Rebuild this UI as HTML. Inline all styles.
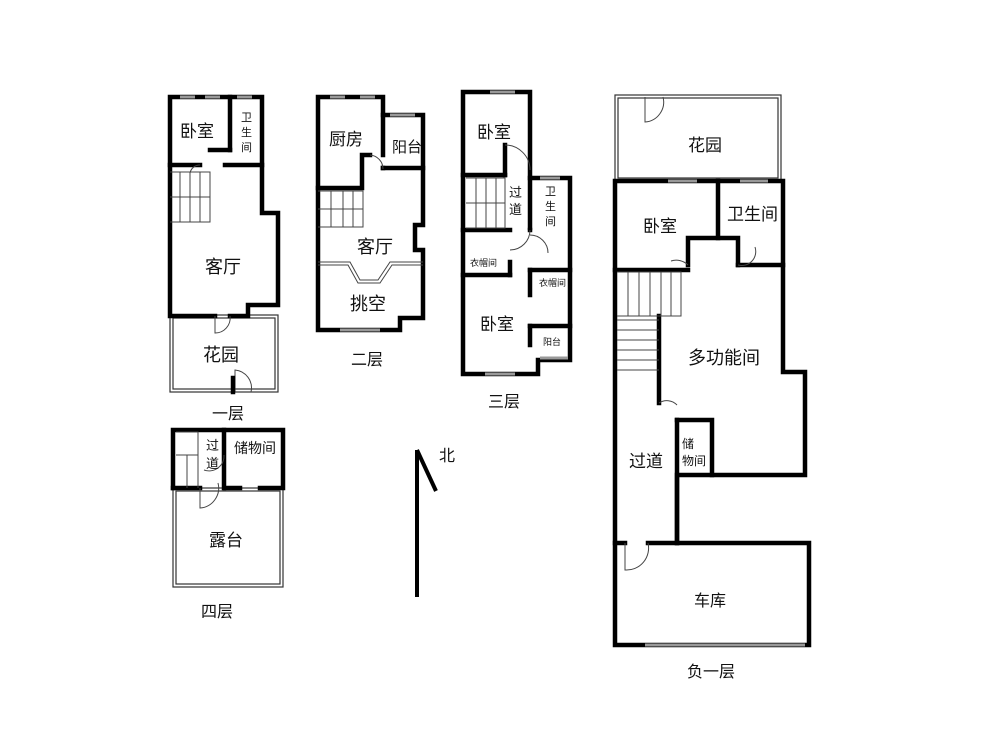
<!DOCTYPE html><html><head><meta charset="utf-8"><style>
html,body{margin:0;padding:0;background:#fff}
svg{display:block}
text{font-family:"Liberation Sans","Noto Sans CJK SC",sans-serif;fill:#111}
.w{fill:none;stroke:#000;stroke-width:4.5;stroke-linecap:square}
.t{fill:none;stroke:#333;stroke-width:1.2}
.d{fill:none;stroke:#444;stroke-width:1}
.win{stroke:#999;stroke-width:3}
</style></head><body>
<svg width="1000" height="750" viewBox="0 0 1000 750">
<!-- Floor 1 -->
<rect class="t" x="170" y="315" width="108" height="77"/>
<rect class="t" x="173" y="318" width="102" height="71"/>
<polyline class="w" points="215,316 170,316 170,97 262,97 262,213 278,213 278,305 248,305 248,316 230,316"/>
<line class="w" x1="230" y1="97" x2="230" y2="150"/>
<line class="w" x1="170" y1="165" x2="200" y2="165"/>
<line class="w" x1="225" y1="165" x2="262" y2="165"/>
<line class="w" x1="210" y1="150" x2="230" y2="150"/>
<path class="d" d="M170,172 H210 V222 H170 M180,172 V222 M190,172 V222 M200,172 V222 M170,197 H210"/>
<path class="d" d="M215,316 v17 a15,15 0 0 0 15,-17"/>
<path class="d" d="M235,392 v-22 a18,18 0 0 1 16,22"/>
<line class="w" x1="233" y1="378" x2="233" y2="392"/>
<path class="d" d="M200,165 a10,10 0 0 0 -10,8"/>
<line class="win" x1="180" y1="97" x2="195" y2="97"/><line class="win" x1="205" y1="97" x2="220" y2="97"/><line class="win" x1="237" y1="97" x2="252" y2="97"/>
<text x="180" y="137" font-size="17">卧室</text>
<text x="241" y="121" font-size="11">卫</text><text x="241" y="136" font-size="11">生</text><text x="241" y="151" font-size="11">间</text>
<text x="205" y="273" font-size="18">客厅</text>
<text x="203" y="361" font-size="18">花园</text>
<text x="212" y="419" font-size="16">一层</text>
<!-- Floor 2 -->
<polyline class="w" points="318,330 318,97 383,97 383,115 423,115 423,225 415,225 415,250 423,250 423,318 400,318 400,330 318,330"/>
<line class="w" x1="383" y1="115" x2="383" y2="155"/>
<line class="w" x1="383" y1="168" x2="383" y2="168"/>
<polyline class="w" points="318,188 362,188 362,155 370,155"/>
<line class="w" x1="383" y1="168" x2="423" y2="168"/>
<path class="d" d="M318,191 H363 V227 H318 M318,209 H363 M331,191 V227 M343,191 V227 M353,191 V227"/>
<path class="d" d="M318,262 H350 L360,280 H378 L390,262 H423 M318,265 H348 L358,283 H380 L392,265 H423"/>
<path class="d" d="M370,155 a14,14 0 0 1 13,14"/>
<line class="win" x1="330" y1="97" x2="345" y2="97"/><line class="win" x1="360" y1="97" x2="375" y2="97"/><line class="win" x1="390" y1="115" x2="415" y2="115"/><line class="win" x1="340" y1="330" x2="380" y2="330"/>
<text x="329" y="145" font-size="17">厨房</text>
<text x="392" y="152" font-size="15">阳台</text>
<text x="357" y="253" font-size="18">客厅</text>
<text x="350" y="310" font-size="18">挑空</text>
<text x="351" y="365" font-size="16">二层</text>
<!-- Floor 3 -->
<polyline class="w" points="463,374 463,92 530,92 530,178 570,178 570,360 538,360 538,374 463,374"/>
<line class="w" x1="463" y1="175" x2="505" y2="175"/>
<line class="w" x1="505" y1="145" x2="505" y2="175"/>
<line class="w" x1="463" y1="230" x2="510" y2="230"/>
<line class="w" x1="530" y1="230" x2="530" y2="230"/>
<line class="w" x1="463" y1="275" x2="510" y2="275"/>
<line class="w" x1="510" y1="262" x2="510" y2="275"/>
<line class="w" x1="530" y1="270" x2="570" y2="270"/>
<line class="w" x1="530" y1="270" x2="530" y2="295"/>
<line class="w" x1="530" y1="326" x2="570" y2="326"/>
<line class="w" x1="530" y1="326" x2="530" y2="345"/>
<line class="w" x1="530" y1="228" x2="530" y2="178"/>
<path class="d" d="M466,178 H505 V228 H466 M476,178 V228 M486,178 V228 M496,178 V228 M466,203 H505"/>
<path class="d" d="M505,145 a25,25 0 0 1 25,25 M510,250 a20,20 0 0 0 20,-20 M530,235 a18,18 0 0 1 18,18"/>
<line class="win" x1="490" y1="92" x2="515" y2="92"/><line class="win" x1="540" y1="178" x2="560" y2="178"/><line class="win" x1="485" y1="374" x2="515" y2="374"/><line class="win" x1="540" y1="358" x2="568" y2="358"/>
<text x="477" y="138" font-size="17">卧室</text>
<text x="509" y="197" font-size="13">过</text><text x="509" y="214" font-size="13">道</text>
<text x="545" y="195" font-size="11">卫</text><text x="545" y="210" font-size="11">生</text><text x="545" y="225" font-size="11">间</text>
<text x="470" y="266" font-size="9">衣帽间</text>
<text x="539" y="286" font-size="9">衣帽间</text>
<text x="480" y="330" font-size="17">卧室</text>
<text x="543" y="345" font-size="9">阳台</text>
<text x="488" y="407" font-size="16">三层</text>
<!-- Floor 4 -->
<rect class="t" x="173" y="488" width="110" height="99"/>
<rect class="t" x="176" y="491" width="104" height="93"/>
<polyline class="w" points="173,488 173,430 283,430 283,488 260,488"/>
<line class="w" x1="173" y1="488" x2="200" y2="488"/>
<line class="w" x1="225" y1="488" x2="240" y2="488"/>
<line class="w" x1="224" y1="430" x2="224" y2="488"/>
<path class="d" d="M176,432 H198 V488 M176,455 H198 M187,455 V488 M200,488 V508 a20,20 0 0 0 18,-25 M224,455 a15,15 0 0 1 -20,15"/>
<text x="206" y="450" font-size="13">过</text><text x="206" y="468" font-size="13">道</text>
<text x="234" y="453" font-size="14">储物间</text>
<text x="209" y="546" font-size="17">露台</text>
<text x="201" y="617" font-size="16">四层</text>
<!-- North -->
<line x1="417" y1="450" x2="417" y2="597" stroke="#000" stroke-width="4"/>
<line x1="417" y1="450" x2="436" y2="491" stroke="#000" stroke-width="4"/>
<text x="439" y="461" font-size="16">北</text>
<!-- B1 -->
<rect class="t" x="615" y="95" width="166" height="86"/>
<rect class="t" x="618" y="98" width="160" height="80"/>
<path class="d" d="M645,97 v25 a20,20 0 0 0 18,-25"/>
<polyline class="w" points="615,181 615,645 809,645 809,543 677,543 677,475 805,475 805,372 783,372 783,181 615,181"/>
<line class="w" x1="718" y1="181" x2="718" y2="238"/>
<polyline class="w" points="688,265 688,238 738,238 738,265"/>
<line class="w" x1="615" y1="270" x2="688" y2="270"/>
<line class="w" x1="738" y1="265" x2="783" y2="265"/>
<polyline class="w" points="615,543 625,543"/>
<line class="w" x1="648" y1="543" x2="677" y2="543"/>
<polyline class="w" points="659,316 659,403"/>
<polyline class="w" points="677,420 712,420 712,475"/>
<line class="w" x1="677" y1="420" x2="677" y2="543"/>
<path class="d" d="M617,272 H681 V316 H617 M628,272 V316 M639,272 V316 M650,272 V316 M661,272 V316 M671,272 V316 M617,320 H659 M617,330 H659 M617,340 H659 M617,350 H659 M617,360 H659 M617,370 H659"/>
<path class="d" d="M688,265 a17,17 0 0 0 -17,-4 M738,265 a14,14 0 0 0 17,-18 M659,403 a14,14 0 0 1 18,2 M625,543 v27 a22,22 0 0 0 23,-27"/>
<line class="win" x1="668" y1="181" x2="697" y2="181"/><line class="win" x1="740" y1="181" x2="768" y2="181"/><line class="win" x1="645" y1="645" x2="805" y2="645"/>
<text x="688" y="151" font-size="17">花园</text>
<text x="643" y="232" font-size="17">卧室</text>
<text x="727" y="220" font-size="17">卫生间</text>
<text x="688" y="364" font-size="18">多功能间</text>
<text x="629" y="467" font-size="17">过道</text>
<text x="682" y="448" font-size="12">储</text><text x="682" y="465" font-size="12">物间</text>
<text x="694" y="606" font-size="16">车库</text>
<text x="687" y="677" font-size="16">负一层</text>
</svg>
</body></html>
